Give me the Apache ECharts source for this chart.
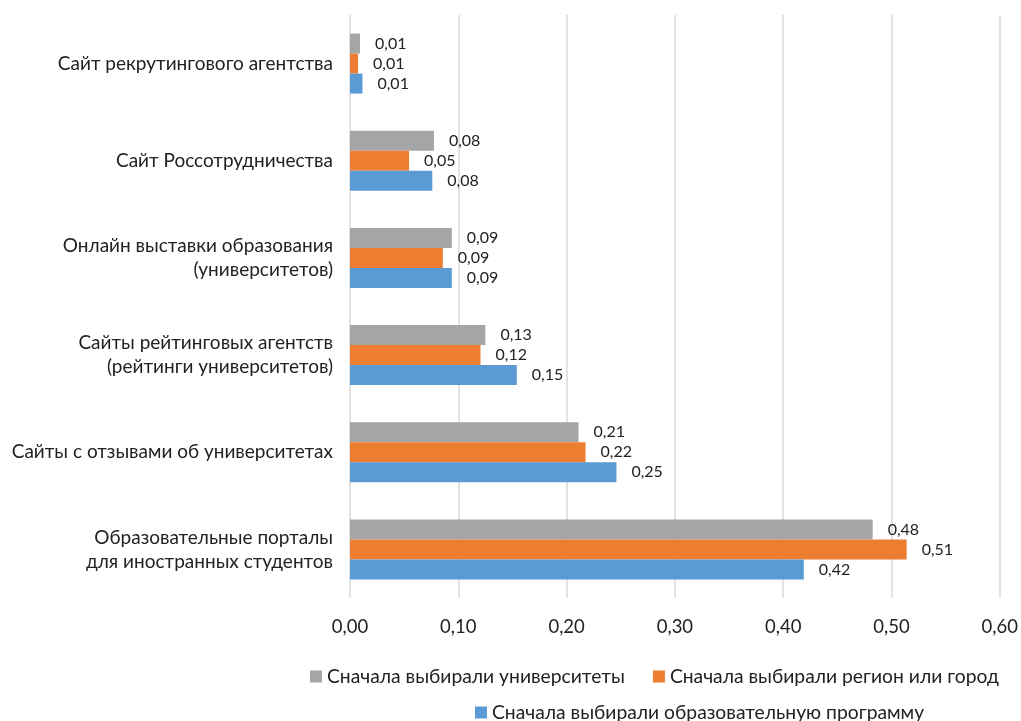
<!DOCTYPE html>
<html><head><meta charset="utf-8">
<script src="https://cdn.jsdelivr.net/npm/echarts@6/dist/echarts.min.js"></script>
<style>html,body{margin:0;padding:0;background:#fff}#c{width:1021px;height:721px}</style>
</head><body><div id="c"></div>
<script>
// categories bottom to top
const categories = [
  'Образовательные порталы\nдля иностранных студентов',
  'Сайты с отзывами об университетах',
  'Сайты рейтинговых агентств\n(рейтинги университетов)',
  'Онлайн выставки образования\n(университетов)',
  'Сайт Россотрудничества',
  'Сайт рекрутингового агентства'
];
const seriesNames = [
  'Сначала выбирали образовательную программу',
  'Сначала выбирали регион или город',
  'Сначала выбирали университеты'
];
const programValues = [0.419, 0.246, 0.154, 0.094, 0.076, 0.0115];
const regionValues = [0.514, 0.2175, 0.1205, 0.0857, 0.0545, 0.0074];
const universityValues = [0.4826, 0.211, 0.125, 0.094, 0.0775, 0.0092];
const xTicks = [0, 0.1, 0.2, 0.3, 0.4, 0.5, 0.6];
const colors = ['#5B9BD5', '#ED7D31', '#A5A5A5'];
const fmt = v => v.toFixed(2).replace('.', ',');
const FONT = 'Lato';
const TXT = '#222222';
const chart = echarts.init(document.getElementById('c'));
const mk = (i, data) => ({
  name: seriesNames[i], type: 'bar', data: data, barWidth: 20, barGap: '0%',
  itemStyle: { color: colors[i] },
  label: { show: true, position: 'right', distance: 15, color: TXT, fontFamily: FONT, fontSize: 16,
    formatter: p => fmt(p.value) }
});
chart.setOption({
  animation: false,
  textStyle: { fontFamily: FONT },
  grid: { left: 350, right: 21, top: 15, bottom: 123 },
  xAxis: { type: 'value', min: xTicks[0], max: xTicks[xTicks.length - 1], interval: 0.1,
    axisLine: { show: false }, axisTick: { show: false },
    splitLine: { lineStyle: { color: '#d9d9d9', width: 1.5 } },
    axisLabel: { formatter: fmt, color: TXT, fontSize: 18.5, fontFamily: FONT, margin: 20 } },
  yAxis: { type: 'category', data: categories,
    axisLine: { show: false }, axisTick: { show: false },
    axisLabel: { color: TXT, fontSize: 19, fontFamily: FONT, margin: 17, lineHeight: 24 } },
  legend: [
    { data: [seriesNames[2], seriesNames[1]], left: 305, top: 662, itemWidth: 12, itemHeight: 12, itemGap: 28,
      icon: 'rect', textStyle: { color: TXT, fontSize: 19.3, fontFamily: FONT } },
    { data: [seriesNames[0]], left: 470, top: 698, itemWidth: 12, itemHeight: 12,
      icon: 'rect', textStyle: { color: TXT, fontSize: 19.3, fontFamily: FONT } }
  ],
  series: [mk(2, universityValues), mk(1, regionValues), mk(0, programValues)]
});
</script></body></html>
